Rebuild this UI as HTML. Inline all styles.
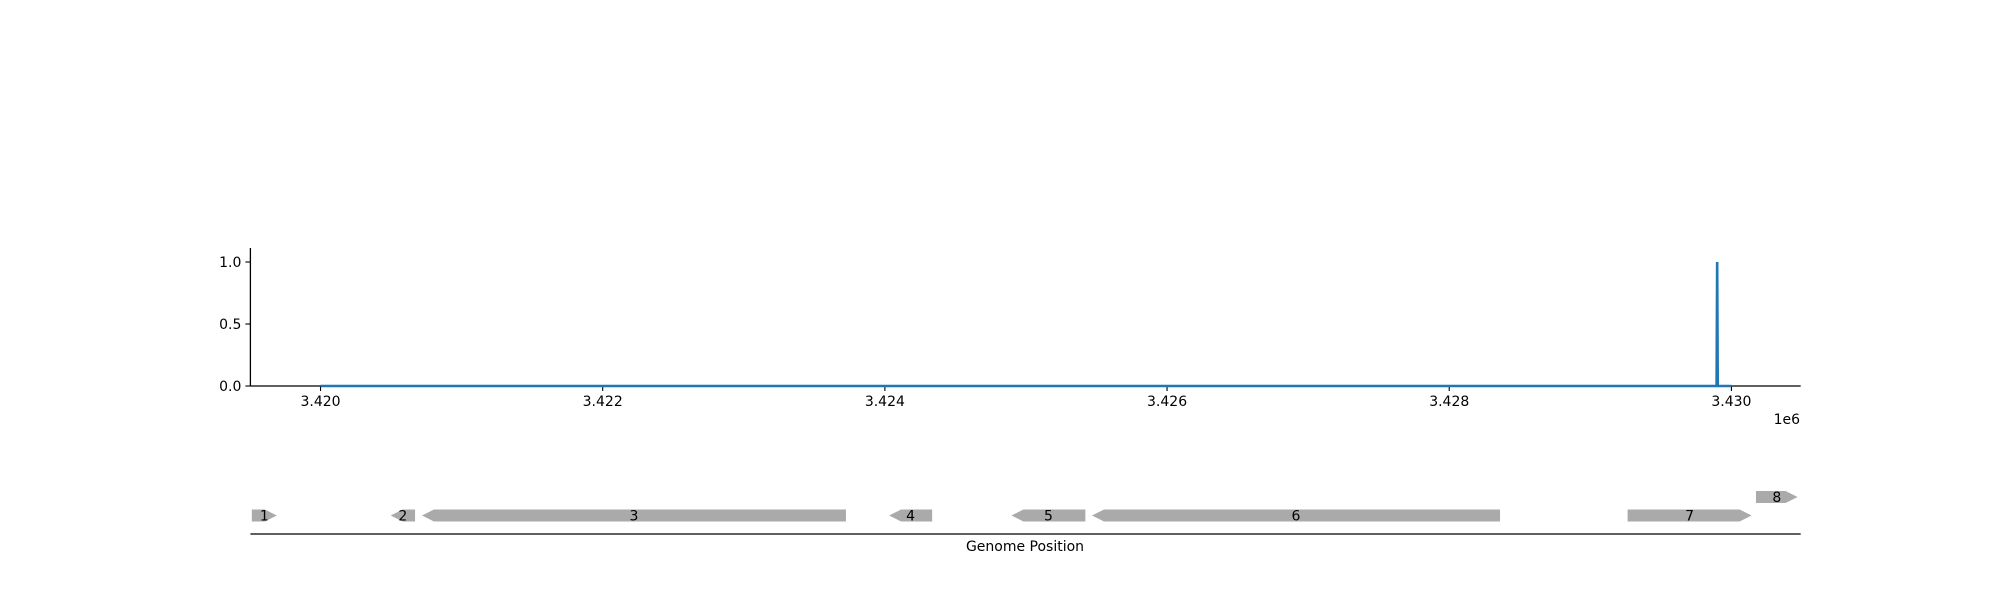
<!DOCTYPE html>
<html><head><meta charset="utf-8"><style>
body{margin:0;background:#fff;}
svg text{font-family:"DejaVu Sans","Liberation Sans",sans-serif;font-size:14px;fill:#000;}
</style></head><body>
<svg id="chart" width="2000" height="600" xmlns="http://www.w3.org/2000/svg"></svg>
<script>
const xTicks=[3420000,3422000,3424000,3426000,3428000,3430000];
const xTickLabels=["3.420","3.422","3.424","3.426","3.428","3.430"];
const yTicks=[0,0.5,1.0];
const yTickLabels=["0.0","0.5","1.0"];
const signalPos=[3420000,3429895,3429899,3429903,3430000];
const signalVal=[0,0,1.0,0,0];
const geneNames=["1","2","3","4","5","6","7","8"];
const geneStart=[3419513,3420497,3420719,3424030,3424897,3425468,3429264,3430174];
const geneEnd=[3419690,3420670,3423724,3424335,3425421,3428360,3430143,3430469];
const geneStrand=[1,-1,-1,-1,-1,-1,1,1];
const geneRow=[0,0,0,0,0,0,0,1];

const NS="http://www.w3.org/2000/svg";
const svg=document.getElementById('chart');
const x0=250.4,x1=1800.7,d0=3419503,d1=3430491;
const X=v=>x0+(v-d0)/(d1-d0)*(x1-x0);
const Y=v=>386+(262-386)*v;
function mk(t,a,p){const e=document.createElementNS(NS,t);for(const k in a)e.setAttribute(k,a[k]);(p||svg).appendChild(e);return e;}

let e;
e=mk('line',{x1:x0,y1:248,x2:x0,y2:386,stroke:'#000','stroke-width':1.3});


e=mk('line',{x1:x0,y1:386,x2:x1,y2:386,stroke:'#000','stroke-width':1.3});


yTicks.forEach((v,i)=>{
  let t=mk('line',{x1:x0-5,y1:Y(v),x2:x0,y2:Y(v),stroke:'#000','stroke-width':1.1});
  
  
  let l=mk('text',{x:x0-9,y:Y(v)+5,'text-anchor':'end'});l.textContent=yTickLabels[i];
  
  
});
xTicks.forEach((v,i)=>{
  let t=mk('line',{x1:X(v),y1:386,x2:X(v),y2:391,stroke:'#000','stroke-width':1.1});
  
  
  let l=mk('text',{x:X(v),y:406,'text-anchor':'middle'});l.textContent=xTickLabels[i];
  
  
});
e=mk('text',{x:1800,y:424,'text-anchor':'end'});e.textContent='1e6';


let pts=signalPos.map((p,i)=>X(p).toFixed(2)+','+Y(signalVal[i]).toFixed(2)).join(' ');
e=mk('polyline',{points:pts,fill:'none',stroke:'#1f77b4','stroke-width':2.6});



e=mk('line',{x1:x0,y1:534,x2:x1,y2:534,stroke:'#000','stroke-width':1.3});


geneNames.forEach((n,i)=>{
  const a=X(geneStart[i]),b=X(geneEnd[i]);
  const cy=geneRow[i]?497:515.5,h=6,hl=Math.min(12,(b-a)*0.6);
  let p;
  if(geneStrand[i]>0)p=[[a,cy-h],[b-hl,cy-h],[b,cy],[b-hl,cy+h],[a,cy+h]];
  else p=[[a,cy],[a+hl,cy-h],[b,cy-h],[b,cy+h],[a+hl,cy+h]];
  let g=mk('polygon',{points:p.map(q=>q.join(',')).join(' '),fill:'#aaaaaa'});
  
  
  let l=mk('text',{x:(a+b)/2,y:cy+5,'text-anchor':'middle'});l.textContent=n;
  
  
});
e=mk('text',{x:1025,y:551,'text-anchor':'middle'});e.textContent='Genome Position';


</script>
</body></html>
